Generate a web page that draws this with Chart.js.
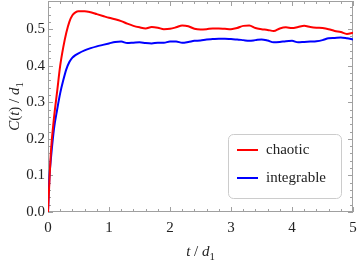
<!DOCTYPE html>
<html>
<head>
  <title>C(t) / d1</title>
  <script src="https://cdn.jsdelivr.net/npm/chart.js"></script>
  <style>
    body {
      margin: 0;
      background: white;
    }

    .chart-container {
      width: 360px;
      height: 262px;
    }
  </style>
</head>
<body>
  <div class="chart-container">
    <canvas id="chart" width="360" height="262"></canvas>
  </div>

  <script>
    // time samples t / d1
    var times = [0, 0.025, 0.05, 0.1, 0.15, 0.2, 0.25, 0.3, 0.35, 0.4, 0.45, 0.5, 0.6, 0.7, 0.8, 0.9,
      1.0, 1.1, 1.2, 1.3, 1.4, 1.5, 1.6, 1.7, 1.8, 1.9, 2.0, 2.1, 2.2, 2.3, 2.4, 2.5, 2.6, 2.7, 2.8, 2.9,
      3.0, 3.1, 3.2, 3.3, 3.4, 3.5, 3.6, 3.7, 3.8, 3.9, 4.0, 4.1, 4.2, 4.3, 4.4, 4.5, 4.6, 4.7, 4.8, 4.9, 5.0];

    var chaotic = [0, 0.09, 0.17, 0.26, 0.33, 0.40, 0.45, 0.49, 0.52, 0.538, 0.546, 0.549, 0.549, 0.546, 0.541, 0.536,
      0.531, 0.527, 0.522, 0.515, 0.509, 0.505, 0.502, 0.506, 0.504, 0.500, 0.501, 0.505, 0.510, 0.508, 0.501, 0.499, 0.500, 0.502, 0.502, 0.501,
      0.500, 0.503, 0.509, 0.510, 0.503, 0.500, 0.498, 0.495, 0.502, 0.505, 0.503, 0.506, 0.509, 0.506, 0.504, 0.503, 0.500, 0.495, 0.492, 0.487, 0.490];

    var integrable = [0, 0.10, 0.15, 0.23, 0.28, 0.325, 0.36, 0.39, 0.41, 0.422, 0.429, 0.434, 0.442, 0.448, 0.453, 0.457,
      0.461, 0.465, 0.466, 0.462, 0.463, 0.464, 0.462, 0.461, 0.463, 0.463, 0.466, 0.466, 0.463, 0.465, 0.468, 0.469, 0.472, 0.473, 0.474, 0.474,
      0.473, 0.472, 0.470, 0.468, 0.470, 0.472, 0.469, 0.464, 0.465, 0.467, 0.468, 0.464, 0.465, 0.466, 0.467, 0.470, 0.475, 0.476, 0.477, 0.475, 0.472];

    var xTicks = [0, 1, 2, 3, 4, 5];
    var yTicks = [0, 0.1, 0.2, 0.3, 0.4, 0.5];
    var yTickLabels = ['0.0', '0.1', '0.2', '0.3', '0.4', '0.5'];

    var serif = '"Liberation Serif", "Times New Roman", serif';

    function toPoints(ys) {
      return times.map(function (t, i) { return { x: t, y: ys[i] }; });
    }

    // draws pieces of text like [["C", true], ["(", false], ...], italic flag, subscript flag
    function richText(ctx, parts, cx, cy, size) {
      var total = 0;
      parts.forEach(function (p) {
        ctx.font = (p[1] ? 'italic ' : '') + (p[2] ? size * 0.72 : size) + 'px ' + serif;
        p.w = ctx.measureText(p[0]).width;
        total += p.w;
      });
      var x = cx - total / 2;
      ctx.textAlign = 'left';
      ctx.textBaseline = 'alphabetic';
      parts.forEach(function (p) {
        ctx.font = (p[1] ? 'italic ' : '') + (p[2] ? size * 0.72 : size) + 'px ' + serif;
        ctx.fillText(p[0], x, cy + size * 0.33 + (p[2] ? size * 0.28 : 0));
        x += p.w;
      });
    }

    var framePlugin = {
      id: 'frame',
      beforeDatasetsDraw: function (chart) {
        var ctx = chart.ctx;
        var a = chart.chartArea;
        var xs = chart.scales.x;
        var ys = chart.scales.y;
        ctx.save();
        ctx.strokeStyle = '#a0a0a0';
        ctx.lineWidth = 1;
        ctx.strokeRect(a.left + 0.5, a.top + 0.5, a.right - a.left - 1, a.bottom - a.top - 1);

        ctx.beginPath();
        // x ticks, minor every 0.2
        for (var i = 0; i <= 25; i++) {
          var v = i * 0.2;
          var px = Math.round(xs.getPixelForValue(v)) + 0.5;
          var len = (i % 5 === 0) ? 5 : 3;
          ctx.moveTo(px, a.bottom); ctx.lineTo(px, a.bottom - len);
          ctx.moveTo(px, a.top); ctx.lineTo(px, a.top + len);
        }
        // y ticks, minor every 0.02
        for (var j = 0; j <= 28; j++) {
          var w = j * 0.02;
          var py = Math.round(ys.getPixelForValue(w)) + 0.5;
          if (py < a.top) continue;
          var l2 = (j % 5 === 0) ? 5 : 3;
          ctx.moveTo(a.left, py); ctx.lineTo(a.left + l2, py);
          ctx.moveTo(a.right, py); ctx.lineTo(a.right - l2, py);
        }
        ctx.stroke();

        ctx.fillStyle = '#222';
        ctx.font = '15px ' + serif;
        ctx.textAlign = 'center';
        ctx.textBaseline = 'middle';
        xTicks.forEach(function (t) {
          ctx.fillText(String(t), xs.getPixelForValue(t), a.bottom + 16);
        });
        ctx.textAlign = 'right';
        yTicks.forEach(function (t, k) {
          ctx.fillText(yTickLabels[k], a.left - 3, ys.getPixelForValue(t));
        });

        // axis titles
        richText(ctx, [['t', true], [' / ', false], ['d', true], ['1', false, true]], (a.left + a.right) / 2, 251, 15);
        ctx.translate(14, (a.top + a.bottom) / 2);
        ctx.rotate(-Math.PI / 2);
        richText(ctx, [['C', true], ['(', false], ['t', true], [')', false], [' / ', false], ['d', true], ['1', false, true]], 0, 0, 15);
        ctx.restore();
      },
      afterDraw: function (chart) {
        var ctx = chart.ctx;
        ctx.save();
        var bx = 228, by = 134, bw = 113, bh = 64;
        ctx.beginPath();
        ctx.roundRect(bx + 0.5, by + 0.5, bw, bh, 5);
        ctx.fillStyle = 'white';
        ctx.fill();
        ctx.strokeStyle = '#cccccc';
        ctx.lineWidth = 1;
        ctx.stroke();
        chart.data.datasets.forEach(function (ds, i) {
          var y = by + 16 + i * 28;
          ctx.strokeStyle = ds.borderColor;
          ctx.lineWidth = 2;
          ctx.beginPath();
          ctx.moveTo(bx + 9, y);
          ctx.lineTo(bx + 30, y);
          ctx.stroke();
          ctx.fillStyle = '#222';
          ctx.font = '15px ' + serif;
          ctx.textAlign = 'left';
          ctx.textBaseline = 'middle';
          ctx.fillText(ds.label, bx + 38, y);
        });
        ctx.restore();
      }
    };

    var ctx = document.getElementById('chart').getContext('2d');
    var chart = new Chart(ctx, {
      type: 'line',
      data: {
        datasets: [{
          label: 'chaotic',
          data: toPoints(chaotic),
          borderColor: '#ff0000',
          borderWidth: 2,
          pointRadius: 0,
          cubicInterpolationMode: 'monotone',
          fill: false
        }, {
          label: 'integrable',
          data: toPoints(integrable),
          borderColor: '#0000ff',
          borderWidth: 2,
          pointRadius: 0,
          cubicInterpolationMode: 'monotone',
          fill: false
        }]
      },
      options: {
        responsive: false,
        animation: false,
        layout: { padding: { left: 48, right: 7, top: 1, bottom: 50 } },
        plugins: {
          legend: { display: false },
          tooltip: { enabled: false }
        },
        scales: {
          x: { type: 'linear', min: 0, max: 5, display: false },
          y: { type: 'linear', min: 0, max: 0.577, display: false }
        }
      },
      plugins: [framePlugin]
    });
  </script>
</body>
</html>
